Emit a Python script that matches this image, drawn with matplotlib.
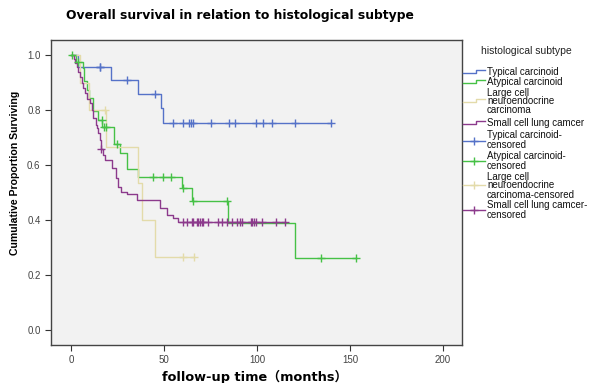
import numpy as np
import matplotlib
matplotlib.use("Agg")
import matplotlib.pyplot as plt
from matplotlib.lines import Line2D

# Kaplan-Meier curves: step times (months) and survival after each step
typ_times = [0, 3.9, 21.3, 36.2, 48.2, 49.3]
typ_surv = [1.0, 0.957, 0.909, 0.860, 0.806, 0.752]
typ_cens = [15.3, 15.8, 30.0, 45.0, 55.0, 60.0, 63.6, 64.3, 65.8, 75.1, 85.1, 88.2,
            99.5, 103.0, 108.2, 120.4, 139.8]

atyp_times = [0, 2.5, 6.6, 7.0, 8.4, 9.7, 12.0, 14.7, 16.5, 23.3, 26.3, 29.9, 36.2,
              59.9, 64.9, 84.6, 120.4]
atyp_surv = [1.0, 0.975, 0.953, 0.904, 0.874, 0.844, 0.795, 0.765, 0.737, 0.676, 0.642,
             0.584, 0.555, 0.518, 0.470, 0.390, 0.260]
atyp_cens = [0.5, 3.6, 16.4, 17.9, 18.6, 24.9, 44.3, 49.6, 53.8, 60.4, 65.8, 83.7,
             134.4, 153.0]

lcnec_times = [0, 4.8, 9.9, 18.8, 36.2, 38.4, 45.2]
lcnec_surv = [1.0, 0.9, 0.8, 0.667, 0.533, 0.4, 0.267]
lcnec_cens = [18.5, 60.0, 66.1]

sclc_times = [0, 1.3, 2.2, 3.0, 3.9, 4.8, 5.7, 6.6, 7.5, 8.4, 10.2, 11.1, 12.0, 13.4,
              14.0, 14.7, 15.6, 16.0, 17.4, 18.3, 21.9, 24.0, 25.4, 26.9, 29.9, 35.3,
              47.8, 51.4, 55.0, 57.7]
sclc_surv = [1.0, 0.985, 0.970, 0.955, 0.939, 0.921, 0.900, 0.879, 0.861, 0.842, 0.824,
             0.800, 0.770, 0.745, 0.733, 0.715, 0.690, 0.660, 0.636, 0.618, 0.588, 0.552,
             0.521, 0.503, 0.495, 0.473, 0.442, 0.418, 0.406, 0.391]
sclc_cens = [16.3, 60.4, 62.2, 64.9, 65.8, 67.6, 68.5, 69.3, 70.2, 71.1, 73.8, 79.2,
             81.0, 83.7, 86.4, 89.1, 90.8, 91.7, 96.6, 97.5, 98.4, 99.5, 102.5, 110.2, 115.0]

groups = [["Typical carcinoid"], ["Atypical carcinoid"],
          ["Large cell", "neuroendocrine", "carcinoma"], ["Small cell lung camcer"]]
cens_labels = [["Typical carcinoid-", "censored"], ["Atypical carcinoid-", "censored"],
               ["Large cell", "neuroendocrine", "carcinoma-censored"],
               ["Small cell lung camcer-", "censored"]]

colors = ["#5572c8", "#46c146", "#e3dbaa", "#8c3a8c"]

curves = [
    (typ_times, typ_surv, typ_cens),
    (atyp_times, atyp_surv, atyp_cens),
    (lcnec_times, lcnec_surv, lcnec_cens),
    (sclc_times, sclc_surv, sclc_cens),
]

W, H = 598, 383
fig = plt.figure(figsize=(W / 100, H / 100), dpi=100)
fig.patch.set_facecolor("white")

def fx(px):
    return px / W

def fy(py):
    return 1 - py / H

ax = fig.add_axes([fx(51), fy(345), fx(462) - fx(51), fy(40) - fy(345)])
ax.set_facecolor("#f2f2f2")

for (t, s, c), col in zip(curves, colors):
    t = np.array(t)
    s = np.array(s)
    c = np.array(c)
    end = max(t.max(), c.max())
    tt = np.append(t, end)
    ss = np.append(s, s[-1])
    ax.step(tt, ss, where="post", color=col, lw=1.0, zorder=2)
    idx = np.searchsorted(t, c, side="right") - 1
    ax.plot(c, s[idx], linestyle="none", marker="+", ms=6, mew=1.0, color=col, zorder=3)

ax.set_xlim(-10.8, 210.2)
ax.set_ylim(-0.055, 1.055)
ax.set_xticks([0, 50, 100, 150, 200])
ax.set_yticks([0.0, 0.2, 0.4, 0.6, 0.8, 1.0])
ax.set_yticklabels(["0.0", "0.2", "0.4", "0.6", "0.8", "1.0"])
ax.tick_params(direction="out", length=4, width=0.8, colors="#333333",
               labelsize=7, labelcolor="#444444")
for lbl in ax.get_xticklabels() + ax.get_yticklabels():
    lbl.set_family("Liberation Sans")
for sp in ax.spines.values():
    sp.set_color("#444444")
    sp.set_linewidth(1.0)

fig.text(fx(240), fy(15), "Overall survival in relation to histological subtype",
         ha="center", va="center", fontsize=8.9, fontweight="bold", family="DejaVu Sans")
fig.text(fx(15), fy(173), "Cumulative Proportion Surviving", rotation=90,
         ha="center", va="center", fontsize=7.6, fontweight="bold", family="Liberation Sans")
fig.text(fx(255), fy(377), "follow-up time（months）", ha="center", va="center",
         fontsize=9.3, fontweight="bold", family=["DejaVu Sans", "Noto Sans CJK SC"])

# legend drawn by hand outside the axes
fig.text(fx(481), fy(51), "histological subtype", ha="left", va="center",
         fontsize=7.5, color="#222222", family="Liberation Sans")

def legend_text(lines, centers):
    for ln, cy in zip(lines, centers):
        fig.text(fx(487), fy(cy), ln, ha="left", va="center", fontsize=7,
                 color="#111111", family="Liberation Sans")

step_rows = [71.5, 81.5, 101, 123]
step_text = [[71.7], [81.7], [92.5, 101, 110], [123.3]]
for row, lines, centers, col in zip(step_rows, groups, step_text, colors):
    fig.add_artist(Line2D([fx(463), fx(476), fx(476), fx(485)],
                          [fy(row + 1), fy(row + 1), fy(row - 2), fy(row - 2)],
                          color=col, lw=1.0, transform=fig.transFigure))
    legend_text(lines, centers)

cens_rows = [141, 161, 185, 210]
cens_text = [[135, 145], [156, 166], [176.5, 185.5, 195], [205, 215]]
for row, lines, centers, col in zip(cens_rows, cens_labels, cens_text, colors):
    fig.add_artist(Line2D([fx(463), fx(485)], [fy(row), fy(row)], color=col, lw=1.0,
                          transform=fig.transFigure))
    fig.add_artist(Line2D([fx(474)], [fy(row)], marker="+", ms=6, mew=1.0, color=col,
                          transform=fig.transFigure))
    legend_text(lines, centers)

fig.savefig("out.png", dpi=100)
